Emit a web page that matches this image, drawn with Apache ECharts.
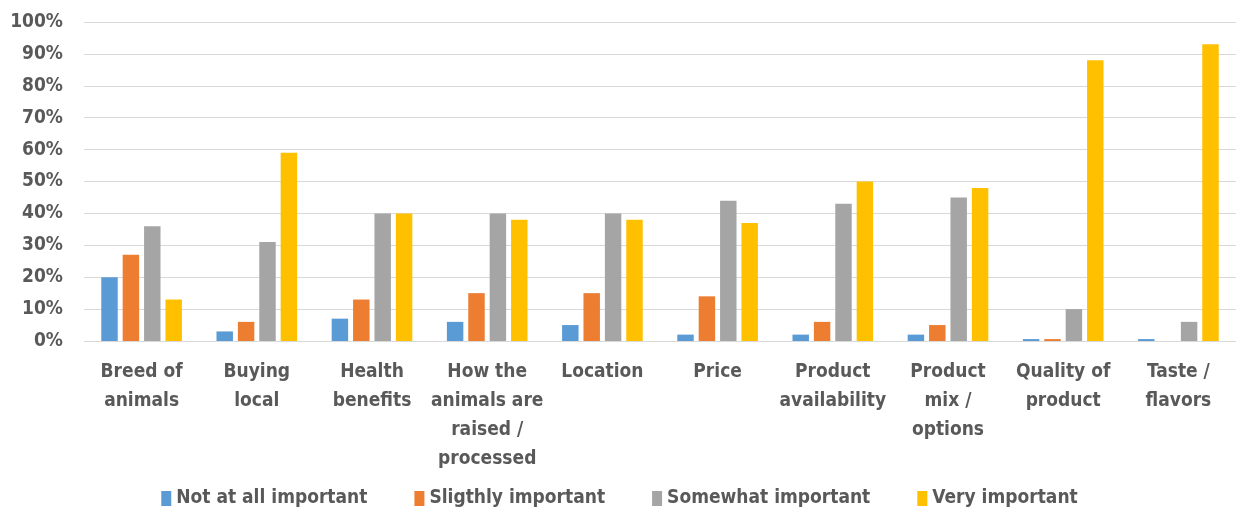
<!DOCTYPE html>
<html lang="en">
<head>
    <meta charset="UTF-8">
    <title>Importance of factors</title>
    <script src="https://cdn.jsdelivr.net/npm/echarts@6/dist/echarts.min.js"></script>
    <style>
        html, body { margin: 0; padding: 0; background: #fff; }
        #main { width: 1239px; height: 508px; }
    </style>
</head>
<body>
<div id="main"></div>
<script type="text/javascript">
    // categories (line breaks as in the picture)
    var categories = ['Breed of\nanimals', 'Buying\nlocal', 'Health\nbenefits', 'How the\nanimals are\nraised /\nprocessed',
        'Location', 'Price', 'Product\navailability', 'Product\nmix /\noptions', 'Quality of\nproduct', 'Taste /\nflavors'];
    var seriesNames = ['Not at all important', 'Sligthly important', 'Somewhat important', 'Very important'];
    // values in %
    var notAtAll = [20, 3, 7, 6, 5, 2, 2, 2, 0.6, 0.6];
    var slightly = [27, 6, 13, 15, 15, 14, 6, 5, 0.6, 0];
    var somewhat = [36, 31, 40, 40, 40, 44, 43, 45, 10, 6];
    var very = [13, 59, 40, 38, 38, 37, 50, 48, 88, 93];
    var yTicks = [0, 10, 20, 30, 40, 50, 60, 70, 80, 90, 100];

    var colors = ['#5B9BD5', '#ED7D31', '#A5A5A5', '#FFC000'];
    var font = "'Liberation Sans Narrow', 'DejaVu Sans Condensed', 'Liberation Sans', sans-serif";
    var txt = '#595959';

    var chart = echarts.init(document.getElementById('main'));
    var data = [notAtAll, slightly, somewhat, very];
    var series = [];
    for (var i = 0; i < data.length; i++) {
        series.push({
            name: seriesNames[i],
            type: 'bar',
            data: data[i],
            barGap: '30%',
            barCategoryGap: '30%',
            itemStyle: { color: colors[i] }
        });
    }

    chart.setOption({
        animation: false,
        color: colors,
        grid: { left: 84, right: 3, top: 22, bottom: 167 },
        legend: {
            top: 484,
            left: 'center',
            itemWidth: 10,
            itemHeight: 15,
            itemGap: 47,
            icon: 'rect',
            textStyle: { color: txt, fontSize: 19, fontWeight: 'bold', fontFamily: font },
            data: seriesNames
        },
        xAxis: {
            type: 'category',
            data: categories,
            axisLine: { lineStyle: { color: '#d9d9d9', width: 1 } },
            axisTick: { show: false },
            axisLabel: {
                interval: 0,
                margin: 17,
                color: txt,
                fontSize: 19,
                fontWeight: 'bold',
                fontFamily: font,
                lineHeight: 29
            }
        },
        yAxis: {
            type: 'value',
            min: yTicks[0],
            max: yTicks[yTicks.length - 1],
            interval: 10,
            axisLine: { show: false },
            axisTick: { show: false },
            splitLine: { lineStyle: { color: '#d9d9d9', width: 1 } },
            axisLabel: {
                margin: 21,
                color: txt,
                fontSize: 19,
                fontWeight: 'bold',
                fontFamily: font,
                formatter: '{value}%'
            }
        },
        series: series
    });
</script>
</body>
</html>
